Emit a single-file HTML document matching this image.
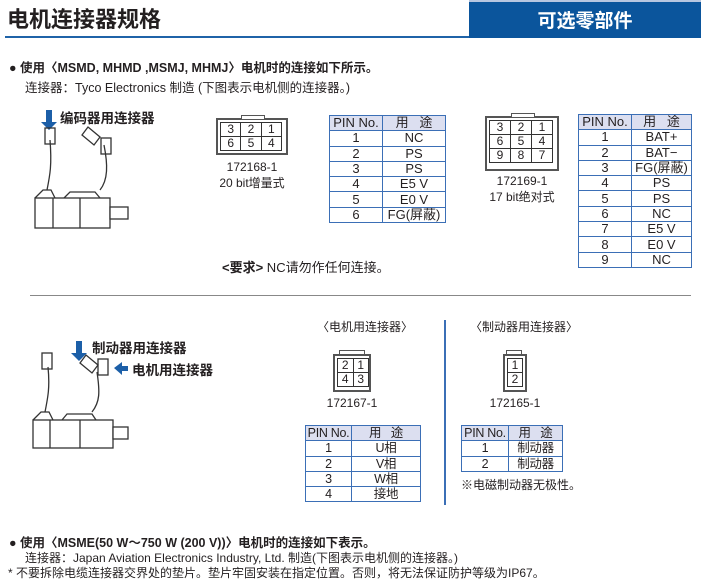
<!DOCTYPE html>
<html><head><meta charset="utf-8"><style>
body{margin:0;width:701px;height:584px;background:#fff;position:relative;overflow:hidden;font-family:"Liberation Sans","Noto Sans CJK SC",sans-serif;color:#231f20}
.a{position:absolute;white-space:nowrap}
table{position:absolute;border-collapse:collapse;font-size:13px;line-height:14px;table-layout:fixed}
td{border:1.5px solid #3b6fb6;text-align:center;padding:0;height:14.3px;white-space:nowrap;overflow:hidden}
tr:first-child td{background:#dcdff0}
table.s{font-size:12.5px;letter-spacing:-0.3px}
.cn{position:absolute;border:2px solid #555;background:#fff}
.g{position:absolute;border-collapse:collapse;font-size:12px}
.g td{border:1.5px solid #333;background:#fff!important;height:13px;line-height:13px}
</style></head><body>
<div class="a" style="left:7px;top:2px;font-size:22px;font-weight:bold">电机连接器规格</div>
<div class="a" style="left:5px;top:36px;width:465px;height:2px;background:#1f63a8"></div>
<div class="a" style="left:469px;top:0;width:232px;height:38px;background:#0b559c;border-top:2px solid #b7c6e0;box-sizing:border-box"></div>
<div class="a" style="left:469px;top:6px;width:232px;text-align:center;color:#fff;font-size:19px;font-weight:bold">可选零部件</div>

<div class="a" style="left:9px;top:57px;font-size:12.5px;font-weight:bold">● 使用〈MSMD, MHMD ,MSMJ, MHMJ〉电机时的连接如下所示。</div>
<div class="a" style="left:25px;top:77px;font-size:12.5px">连接器：Tyco Electronics 制造 (下图表示电机侧的连接器。)</div>

<div class="a" style="left:60px;top:107px;font-size:13.5px;font-weight:bold">编码器用连接器</div>
<svg class="a" style="left:0;top:100px" width="140" height="135">
<path d="M46 10h6v12h5l-8 8-8-8h5z" fill="#1c5fa8"/>
<g fill="none" stroke="#333" stroke-width="1.3">
<rect x="35" y="98" width="75" height="30" fill="#fff"/>
<line x1="53" y1="98" x2="53" y2="128"/><line x1="80" y1="98" x2="80" y2="128"/>
<rect x="110" y="107" width="18" height="12" fill="#fff"/>
<path d="M35 98l8-8h8l4 8"/><path d="M64 98l6-6h25l5 6"/>
<path d="M47 90c3-15 5-25 3-50"/><path d="M100 90c8-10 8-25 4-45"/>
<rect x="45" y="28" width="10" height="16"/><rect x="101" y="38" width="10" height="16"/>
<path d="M82 35l6-8 12 10-6 8z"/>
</g></svg>

<div class="cn" style="left:216px;top:118px;width:68px;height:33px"></div>
<div class="a" style="left:241px;top:115px;width:22px;height:3px;border:1.5px solid #555;border-bottom:none;background:#fff"></div>
<table class="g" style="left:220px;top:122px;width:62px"><tr><td>3</td><td>2</td><td>1</td></tr><tr><td>6</td><td>5</td><td>4</td></tr></table>
<div class="a" style="left:202px;top:160px;width:100px;text-align:center;font-size:12px">172168-1<br>20 bit增量式</div>

<table style="left:329px;top:115px;width:117px"><colgroup><col style="width:53px"><col></colgroup>
<tr><td>PIN No.</td><td>用&nbsp;&nbsp;&nbsp;途</td></tr><tr><td>1</td><td>NC</td></tr><tr><td>2</td><td>PS</td></tr><tr><td>3</td><td><span style="text-decoration:overline">PS</span></td></tr><tr><td>4</td><td>E5 V</td></tr><tr><td>5</td><td>E0 V</td></tr><tr><td>6</td><td>FG(屏蔽)</td></tr></table>

<div class="cn" style="left:485px;top:116px;width:70px;height:51px"></div>
<div class="a" style="left:511px;top:113px;width:22px;height:3px;border:1.5px solid #555;border-bottom:none;background:#fff"></div>
<table class="g" style="left:489px;top:120px;width:64px"><tr><td>3</td><td>2</td><td>1</td></tr><tr><td>6</td><td>5</td><td>4</td></tr><tr><td>9</td><td>8</td><td>7</td></tr></table>
<div class="a" style="left:472px;top:174px;width:100px;text-align:center;font-size:12px">172169-1<br>17 bit绝对式</div>

<table style="left:578px;top:114px;width:114px"><colgroup><col style="width:53px"><col></colgroup>
<tr><td>PIN No.</td><td>用&nbsp;&nbsp;&nbsp;途</td></tr><tr><td>1</td><td>BAT+</td></tr><tr><td>2</td><td>BAT−</td></tr><tr><td>3</td><td>FG(屏蔽)</td></tr><tr><td>4</td><td>PS</td></tr><tr><td>5</td><td><span style="text-decoration:overline">PS</span></td></tr><tr><td>6</td><td>NC</td></tr><tr><td>7</td><td>E5 V</td></tr><tr><td>8</td><td>E0 V</td></tr><tr><td>9</td><td>NC</td></tr></table>

<div class="a" style="left:222px;top:257px;font-size:13px"><b>&lt;要求&gt;</b> NC请勿作任何连接。</div>
<div class="a" style="left:30px;top:295px;width:661px;height:1px;background:#888"></div>

<div class="a" style="left:92px;top:337px;font-size:13.5px;font-weight:bold">制动器用连接器</div>
<div class="a" style="left:132px;top:359px;font-size:13.5px;font-weight:bold">电机用连接器</div>
<svg class="a" style="left:0;top:335px" width="140" height="125">
<path d="M76 6h6v12h5l-8 8-8-8h5z" fill="#1c5fa8"/>
<path d="M114 33l8-6v4h6v5h-6v4z" fill="#1c5fa8"/>
<g fill="none" stroke="#333" stroke-width="1.3">
<rect x="33" y="85" width="80" height="28" fill="#fff"/>
<line x1="50" y1="85" x2="50" y2="113"/><line x1="80" y1="85" x2="80" y2="113"/>
<rect x="113" y="92" width="15" height="12" fill="#fff"/>
<path d="M33 85l8-8h8l4 8"/><path d="M62 85l5-6h25l4 6"/>
<path d="M45 77c3-15 5-25 3-45"/><path d="M92 77c8-10 8-20 5-40"/>
<rect x="42" y="18" width="10" height="16"/><rect x="98" y="24" width="10" height="16"/>
<path d="M80 28l6-8 12 10-6 8z"/>
</g></svg>

<div class="a" style="left:315px;top:318px;width:100px;text-align:center;font-size:12px">〈电机用连接器〉</div>
<div class="a" style="left:444px;top:320px;width:1.5px;height:185px;background:#3b6fb6"></div>
<div class="a" style="left:464px;top:318px;width:120px;text-align:center;font-size:12px">〈制动器用连接器〉</div>

<div class="cn" style="left:333px;top:354px;width:34px;height:34px"></div>
<div class="a" style="left:339px;top:350px;width:24px;height:3px;border:1.5px solid #555;border-bottom:none;background:#fff"></div>
<table class="g" style="left:337px;top:358px;width:32px"><tr><td>2</td><td>1</td></tr><tr><td>4</td><td>3</td></tr></table>
<div class="a" style="left:302px;top:396px;width:100px;text-align:center;font-size:12px">172167-1</div>

<div class="cn" style="left:503px;top:354px;width:20px;height:34px"></div>
<div class="a" style="left:506px;top:350px;width:14px;height:3px;border:1.5px solid #555;border-bottom:none;background:#fff"></div>
<table class="g" style="left:507px;top:358px;width:16px"><tr><td>1</td></tr><tr><td>2</td></tr></table>
<div class="a" style="left:465px;top:396px;width:100px;text-align:center;font-size:12px">172165-1</div>

<table class="s" style="left:305px;top:425px;width:116px"><colgroup><col style="width:46px"><col></colgroup>
<tr><td>PIN No.</td><td>用&nbsp;&nbsp;&nbsp;途</td></tr><tr><td>1</td><td>U相</td></tr><tr><td>2</td><td>V相</td></tr><tr><td>3</td><td>W相</td></tr><tr><td>4</td><td>接地</td></tr></table>

<table class="s" style="left:461px;top:425px;width:102px"><colgroup><col style="width:47px"><col></colgroup>
<tr><td>PIN No.</td><td>用&nbsp;&nbsp;&nbsp;途</td></tr><tr><td>1</td><td>制动器</td></tr><tr><td>2</td><td>制动器</td></tr></table>
<div class="a" style="left:461px;top:476px;font-size:12px">※电磁制动器无极性。</div>

<div class="a" style="left:9px;top:532px;font-size:12.5px;font-weight:bold">● 使用〈MSME(50 W～750 W (200 V))〉电机时的连接如下表示。</div>
<div class="a" style="left:25px;top:549px;font-size:12px">连接器：Japan Aviation Electronics Industry, Ltd. 制造(下图表示电机侧的连接器。)</div>
<div class="a" style="left:8px;top:564px;font-size:12px">* 不要拆除电缆连接器交界处的垫片。垫片牢固安装在指定位置。否则，将无法保证防护等级为IP67。</div>
</body></html>
